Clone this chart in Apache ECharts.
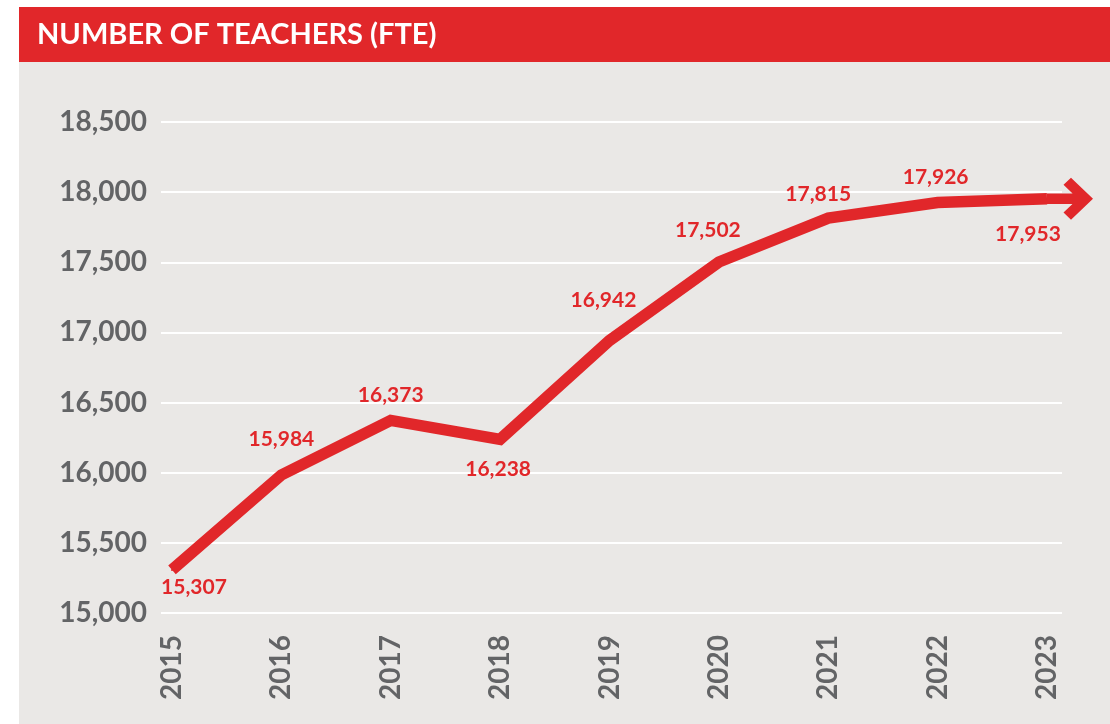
<!DOCTYPE html>
<html>
<head>
<meta charset="utf-8">
<script src="https://cdn.jsdelivr.net/npm/echarts@6/dist/echarts.min.js"></script>
<style>
html,body{margin:0;padding:0;background:#fff;}
#chart{width:1110px;height:724px;}
</style>
</head>
<body>
<div id="chart"></div>
<script>
// ---- data ----
const titleText = 'NUMBER OF TEACHERS (FTE)';
const years = ['2015','2016','2017','2018','2019','2020','2021','2022','2023'];
const teachers = [15307, 15984, 16373, 16238, 16942, 17502, 17815, 17926, 17953];
const yTicks = { min: 15000, max: 18500, interval: 500 };

// ---- styling ----
const RED = '#E1272A';
const GRAY_BG = '#EAE8E6';
const TEXT_GRAY = '#636466';
const FONT = 'Lato, "Open Sans", sans-serif';
// label offsets (label centre relative to the point)
const labelOffsets = [[22,17],[0,-36],[0,-25],[-2,30],[-6,-40],[-11,-32],[-10,-24],[-2,-25],[-19,35]];

const fmt = v => v.toLocaleString('en-US');

const seriesData = teachers.map((v, i) => ({
  value: v,
  label: { offset: labelOffsets[i] }
}));

const arrowPath = 'path://M0 16.5 L40 16.5 L40 27.5 L0 27.5 Z M24 0 L46 22 L24 44 L16.5 36.5 L31 22 L16.5 7.5 Z';

const chart = echarts.init(document.getElementById('chart'), null, { renderer: 'canvas' });
const option = {
  animation: false,
  backgroundColor: '#fff',
  graphic: [
    { type: 'rect', z: -10, silent: true, shape: { x: 19, y: 62, width: 1091, height: 662 }, style: { fill: GRAY_BG } },
    { type: 'rect', z: -10, silent: true, shape: { x: 19, y: 7, width: 1091, height: 55 }, style: { fill: RED } },
    { type: 'text', silent: true, style: { x: 37, y: 35, text: titleText, fill: '#fff', font: 'bold 29px ' + FONT, verticalAlign: 'middle' } }
  ],
  grid: [
    { left: 161, right: 48, top: 122, bottom: 111 },
    { left: 172, right: 63, top: 122, bottom: 111 }
  ],
  xAxis: [
    { gridIndex: 0, type: 'value', min: 0, max: 1, show: false },
    {
      gridIndex: 1, type: 'category', data: years, boundaryGap: false,
      axisLine: { show: false }, axisTick: { show: false }, splitLine: { show: false },
      axisLabel: { rotate: 90, margin: 22, color: TEXT_GRAY, fontFamily: FONT, fontWeight: 'bold', fontSize: 28 }
    }
  ],
  yAxis: [
    {
      gridIndex: 0, type: 'value', min: yTicks.min, max: yTicks.max, interval: yTicks.interval,
      axisLine: { show: false }, axisTick: { show: false },
      splitLine: { lineStyle: { color: '#ffffff', width: 2 } },
      axisLabel: { margin: 14, color: TEXT_GRAY, fontFamily: FONT, fontWeight: 'bold', fontSize: 28, formatter: v => fmt(v) }
    },
    { gridIndex: 1, type: 'value', min: yTicks.min, max: yTicks.max, interval: yTicks.interval, show: false }
  ],
  series: [{
    type: 'line',
    xAxisIndex: 1, yAxisIndex: 1,
    data: seriesData,
    symbol: 'circle', symbolSize: 2,
    itemStyle: { color: RED },
    lineStyle: { color: RED, width: 11.5, join: 'miter', cap: 'butt' },
    emphasis: { disabled: true },
    silent: true,
    clip: false,
    label: {
      show: true, position: 'inside', color: RED,
      fontFamily: FONT, fontWeight: 'bold', fontSize: 21,
      formatter: p => fmt(p.value)
    },
    markPoint: {
      silent: true,
      symbol: arrowPath,
      symbolSize: [46, 44],
      symbolOffset: [23, 0],
      symbolKeepAspect: true,
      itemStyle: { color: RED },
      label: { show: false },
      data: [{ coord: [years[years.length - 1], teachers[teachers.length - 1]] }]
    }
  }]
};
chart.setOption(option);
</script>
</body>
</html>
